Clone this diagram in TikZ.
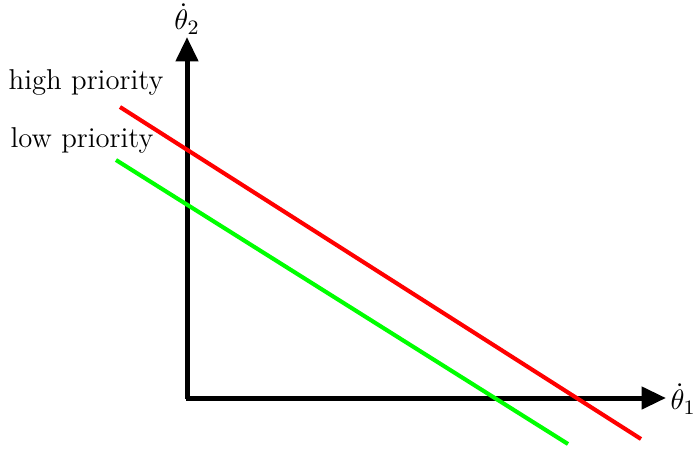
\documentclass[tikz,border=0pt]{standalone}
\usepackage{amsmath,amssymb}
\usepackage{xcolor}
\usetikzlibrary{arrows.meta,positioning,calc}
\definecolor{highcol}{HTML}{FF0000}
\definecolor{lowcol}{HTML}{00FF00}
\tikzset{
  axis/.style={-{Triangle[length=9.5pt,width=8.5pt]}, line width=1.95pt, draw=black},
  prio/.style={line width=1.6pt},
  lbl/.style={inner sep=0pt, font=\fontsize{11.2}{13}\selectfont}
}
\begin{document}
\begin{tikzpicture}[x=0.39pt,y=0.39pt]
        \useasboundingbox (0,0) rectangle (693,449);
        % axes
        \coordinate (o) at (187,51);
        \coordinate (xtip) at (666,51);
        \coordinate (ytip) at (187,412);
        \draw[axis] ($(o)+(-1,0)$) -- (xtip);
        \draw[axis] ($(o)+(0,-1)$) -- (ytip);
        \node[lbl,anchor=west] (th1) at (670,50) {$\dot\theta_1$};
        \node[lbl] (th2) at (187,430) {$\dot\theta_2$};
        % priority lines
        \coordinate (hs) at (120,342);
        \coordinate (he) at (641,10);
        \coordinate (ls) at (116,289);
        \coordinate (le) at (568,5);
        \draw[prio,draw=highcol] (hs) -- (he);
        \draw[prio,draw=lowcol] (ls) -- (le);
        \node[lbl] (high) at (86,367) {high priority};
        \node[lbl] (low) at (82,309) {low priority};
      \end{tikzpicture}
\end{document}
